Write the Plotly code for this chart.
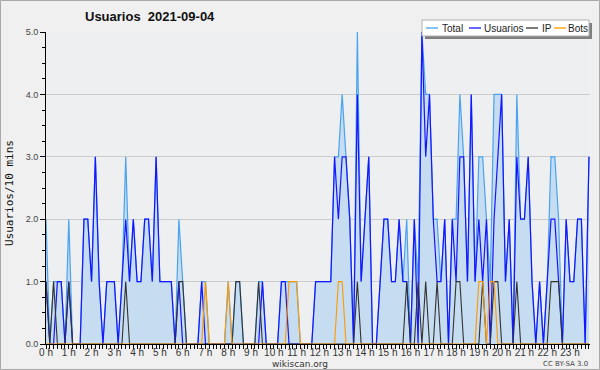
import plotly.graph_objects as go

# 10-minute slots over the day (0 = 00:00 ... 143 = 23:50)
slots = list(range(144))

usuarios = [1,0,0,1,1,0,1,0,0,0, 2,2,1,3,1,0,1,1,1,0,
            1,2,1,2,1,1,2,2,1,3, 1,1,1,1,0,1,0,0,0,0,
            0,1,0,0,0,0,0,0,0,0, 0,0,0,0,0,0,0,1,0,0,
            0,0,1,1,0,0,0,0,0,0, 0,1,1,1,1,1,3,2,3,3,
            2,0,4,1,2,3,0,0,1,2, 2,1,1,2,1,1,0,2,0,5,
            3,4,2,1,1,2,0,2,1,3, 3,1,4,1,2,1,2,0,2,3,
            4,1,2,0,3,2,2,3,1,0, 1,0,1,2,2,1,0,2,1,1,
            2,2,0,3]
ip =       [1,0,1,0,0,0,1,0,0,0, 0,0,0,0,0,0,0,0,0,0,
            0,1,0,0,0,0,0,0,0,0, 0,0,0,0,0,1,1,0,0,0,
            0,0,0,0,0,0,0,0,0,0, 1,1,0,0,0,0,1,0,0,0,
            0,0,0,0,0,0,0,0,0,0, 0,0,0,0,0,0,0,0,0,0,
            0,0,1,0,0,0,0,0,0,0, 0,0,0,0,0,1,0,0,1,0,
            1,0,0,1,0,0,0,0,1,1, 0,0,0,0,0,1,0,0,1,1,
            0,0,0,0,1,0,0,0,0,0, 0,0,0,1,1,1,0,0,0,0,
            0,0,0,0]
bots =     [0,0,0,0,0,0,0,0,0,0, 0,0,0,0,0,0,0,0,0,0,
            0,0,0,0,0,0,0,0,0,0, 0,0,0,0,0,0,0,0,0,0,
            0,0,1,0,0,0,0,0,1,0, 0,0,0,0,0,0,0,0,0,0,
            0,0,0,0,1,1,1,0,0,0, 0,0,0,0,0,0,0,1,1,0,
            0,0,0,0,0,0,0,0,0,0, 0,0,0,0,0,0,0,0,0,0,
            0,0,0,0,0,0,0,0,0,0, 0,0,0,0,1,1,0,1,1,0,
            0,0,0,0,0,0,0,0,0,0, 0,0,0,0,0,0,0,0,0,0,
            0,0,0,0]
total =    [2,0,1,1,1,0,2,0,0,0, 2,2,1,3,1,0,1,1,1,0,
            1,3,1,2,1,1,2,2,1,3, 1,1,1,1,0,2,1,0,0,0,
            0,1,1,0,0,0,0,0,1,0, 1,1,0,0,0,0,1,1,0,0,
            0,0,1,1,1,1,1,0,0,0, 0,1,1,1,1,1,3,3,4,3,
            2,0,5,1,2,3,0,0,1,2, 2,1,1,2,1,2,0,2,1,5,
            4,4,2,2,1,2,0,2,2,4, 3,1,4,1,3,3,2,1,4,4,
            4,1,2,0,4,2,2,3,1,0, 1,0,1,3,3,2,0,2,1,1,
            2,2,0,3]

hour_ticks = [0,6,12,18,24,30,36,42,48,54,60,66,72,78,84,90,96,102,108,114,120,126,132,138]
hour_labels = ["0 h","1 h","2 h","3 h","4 h","5 h","6 h","7 h","8 h","9 h","10 h","11 h",
               "12 h","13 h","14 h","15 h","16 h","17 h","18 h","19 h","20 h","21 h","22 h","23 h"]
y_ticks = [0,1,2,3,4,5]
y_labels = ["0.0","1.0","2.0","3.0","4.0","5.0"]

series_names = ["Total", "Usuarios", "IP", "Bots"]
colors = {"Total": "#4aa3f0", "Usuarios": "#1515ff", "IP": "#333333", "Bots": "#ff9900"}

fig = go.Figure()
fig.add_trace(go.Scatter(x=slots, y=total, name="Total", mode="lines",
                         line=dict(color=colors["Total"], width=1.2),
                         fill="tozeroy", fillcolor="#c6dcf0"))
fig.add_trace(go.Scatter(x=slots, y=usuarios, name="Usuarios", mode="lines",
                         line=dict(color=colors["Usuarios"], width=1.2)))
fig.add_trace(go.Scatter(x=slots, y=ip, name="IP", mode="lines",
                         line=dict(color=colors["IP"], width=1.1)))
fig.add_trace(go.Scatter(x=slots, y=bots, name="Bots", mode="lines",
                         line=dict(color=colors["Bots"], width=1.1)))

# pixel helpers for the plot area (46..590 x, 32..344 y)
L, R, T, B = 46, 590, 32, 344
def px(x):
    return (x - L) / (R - L)
def py(y):
    return (B - y) / (B - T)

shapes = []
annotations = []
# outer border
shapes.append(dict(type="rect", xref="paper", yref="paper",
                   x0=px(0.5), x1=px(599.5), y0=py(369.5), y1=py(0.5),
                   line=dict(color="#a8a8a8", width=1), fillcolor="rgba(0,0,0,0)", layer="above"))
# legend shadow and box
shapes.append(dict(type="rect", xref="paper", yref="paper",
                   x0=px(425), x1=px(592), y0=py(39), y1=py(23),
                   line=dict(width=0), fillcolor="#808080", layer="above"))
shapes.append(dict(type="rect", xref="paper", yref="paper",
                   x0=px(422), x1=px(589), y0=py(36), y1=py(20),
                   line=dict(color="#b0b0b0", width=1), fillcolor="white", layer="above"))
leg_line_x = [426, 469, 526, 554]
leg_text_x = [442, 484, 542, 568]
for name, lx, tx in zip(series_names, leg_line_x, leg_text_x):
    shapes.append(dict(type="line", xref="paper", yref="paper",
                       x0=px(lx), x1=px(lx + 12), y0=py(28), y1=py(28),
                       line=dict(color=colors[name], width=1.3), layer="above"))
    annotations.append(dict(text=name, xref="paper", yref="paper", x=px(tx - 2), y=py(28.5),
                            xanchor="left", yanchor="middle", showarrow=False,
                            font=dict(family="Liberation Sans", size=10, color="#222")))

annotations.append(dict(text="Usuarios\u00a0\u00a02021-09-04", xref="paper", yref="paper",
                        x=px(83), y=py(17), xanchor="left", yanchor="middle", showarrow=False,
                        font=dict(family="Liberation Sans", size=13, color="#111", weight="bold")))
annotations.append(dict(text="Usuarios/10 mins", xref="paper", yref="paper",
                        x=px(10), y=py(193), xanchor="center", yanchor="middle", showarrow=False,
                        textangle=-90, font=dict(family="DejaVu Sans Mono", size=11, color="#111")))
annotations.append(dict(text="wikiscan.org", xref="paper", yref="paper",
                        x=px(300), y=py(363.5), xanchor="center", yanchor="middle", showarrow=False,
                        font=dict(family="DejaVu Sans", size=9, color="#333")))
annotations.append(dict(text="CC BY-SA 3.0", xref="paper", yref="paper",
                        x=px(590), y=py(363.5), xanchor="right", yanchor="middle", showarrow=False,
                        font=dict(family="DejaVu Sans", size=7, color="#444")))

fig.update_layout(
    width=600, height=370,
    margin=dict(l=L, r=600 - R, t=T, b=370 - B, pad=0),
    paper_bgcolor="#f0f0f0", plot_bgcolor="#eeeff1",
    showlegend=False,
    shapes=shapes, annotations=annotations,
    font=dict(family="Liberation Sans", size=10, color="#333"),
)
fig.update_xaxes(range=[0, 143.27], tickmode="array", tickvals=hour_ticks, ticktext=hour_labels,
                 tickangle=0, automargin=False, ticklabelstandoff=-5,
                 ticks="outside", ticklen=4, tickcolor="#000", tickwidth=1,
                 showline=True, linecolor="#000", linewidth=1, showgrid=False, zeroline=False,
                 tickfont=dict(family="Liberation Sans", size=10, color="#333"),
                 minor=dict(dtick=1, tick0=0, ticks="outside", ticklen=4, tickcolor="#000", showgrid=False))
fig.update_yaxes(range=[0, 5.0], tickmode="array", tickvals=y_ticks, ticktext=y_labels,
                 automargin=False,
                 ticks="outside", ticklen=5, tickcolor="#000", tickwidth=1,
                 showline=True, linecolor="#000", linewidth=1, showgrid=True, gridcolor="#cccccc",
                 zeroline=False, tickfont=dict(family="Liberation Sans", size=9, color="#444"),
                 minor=dict(dtick=0.25, tick0=0, ticks="outside", ticklen=3, tickcolor="#000", showgrid=False))

fig.write_html("out.html", config={"displayModeBar": False},
               post_script="document.body.style.margin='0';")
